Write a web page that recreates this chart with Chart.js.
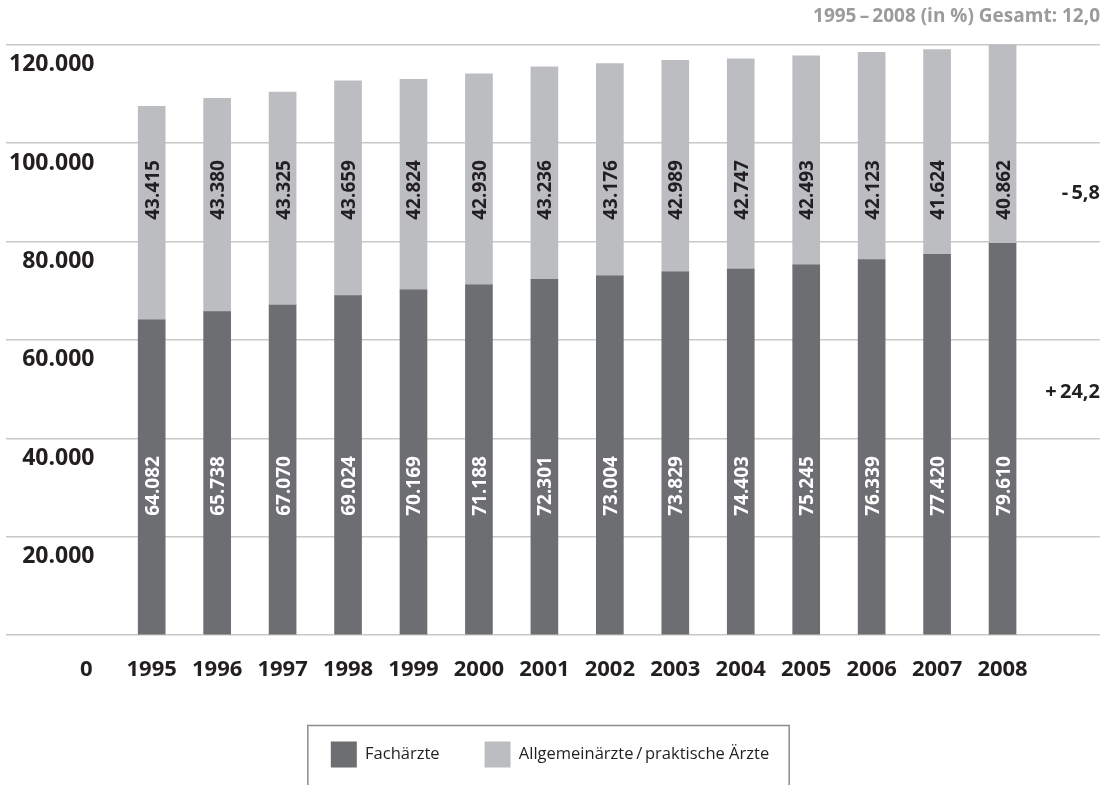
<!DOCTYPE html>
<html lang="de">
<head>
<meta charset="utf-8">
<title>Fachärzte und Allgemeinärzte 1995–2008</title>
<script src="https://cdn.jsdelivr.net/npm/chart.js@4.4.1/dist/chart.umd.min.js"></script>
<style>
  html, body { margin: 0; padding: 0; background: #fff; }
  #wrap { width: 1105px; height: 785px; }
</style>
</head>
<body>
<div id="wrap"><canvas id="aerzteChart" width="1105" height="785"></canvas></div>
<script>
const years = [1995, 1996, 1997, 1998, 1999, 2000, 2001, 2002, 2003, 2004, 2005, 2006, 2007, 2008];
const fachaerzte = [64082, 65738, 67070, 69024, 70169, 71188, 72301, 73004, 73829, 74403, 75245, 76339, 77420, 79610];
const allgemein = [43415, 43380, 43325, 43659, 42824, 42930, 43236, 43176, 42989, 42747, 42493, 42123, 41624, 40862];
const seriesNames = ['Fachärzte', 'Allgemeinärzte\u2009/\u2009praktische Ärzte'];
const changeLabels = ['-\u20095,8', '+\u200924,2'];
const headerText = '1995\u2009–\u20092008 (in %) Gesamt: 12,0';

// the "0" of the value axis sits in the year row, one slot before 1995
const zeroSlot = 1994;

const dark = '#6d6e71';
const light = '#bcbdc0';
const ink = '#231f20';

function fmt(n) {
    return String(n).replace(/\B(?=(\d{3})+(?!\d))/g, '.');
}

// rotated value labels inside the bars
const barLabels = {
    id: 'barLabels',
    afterDatasetsDraw(chart, args, opts) {
        const { ctx } = chart;
        const y = chart.scales.y;
        chart.data.datasets.forEach((ds, i) => {
            chart.getDatasetMeta(i).data.forEach((bar, j) => {
                ctx.save();
                ctx.translate(bar.x, y.getPixelForValue(opts.levels[i]));
                ctx.rotate(-Math.PI / 2);
                ctx.font = "bold 19px 'Open Sans'";
                ctx.fillStyle = opts.colors[i];
                ctx.textAlign = 'center';
                ctx.textBaseline = 'alphabetic';
                ctx.fillText(fmt(ds.data[j].y), 0, 7);
                ctx.restore();
            });
        });
    }
};

// change figures on the right and the frame round the legend
const extras = {
    id: 'extras',
    afterDraw(chart, args, opts) {
        const { ctx, chartArea } = chart;
        const y = chart.scales.y;
        ctx.save();
        ctx.font = "bold 20px 'Open Sans'";
        ctx.fillStyle = ink;
        ctx.textAlign = 'right';
        ctx.textBaseline = 'middle';
        changeLabels.forEach((t, i) => {
            ctx.fillText(t, chartArea.right, y.getPixelForValue(opts.levels[i]));
        });

        const boxes = chart.legend.legendHitBoxes;
        const left = Math.min(...boxes.map(b => b.left)) - 23;
        const right = Math.max(...boxes.map(b => b.left + b.width)) + 20;
        const top = Math.min(...boxes.map(b => b.top)) - 16;
        ctx.strokeStyle = '#8c8c8c';
        ctx.lineWidth = 1.5;
        ctx.beginPath();
        ctx.moveTo(left, chart.height + 2);
        ctx.lineTo(left, top);
        ctx.lineTo(right, top);
        ctx.lineTo(right, chart.height + 2);
        ctx.stroke();
        ctx.restore();
    }
};

const ctx = document.getElementById('aerzteChart').getContext('2d');
const aerzteChart = new Chart(ctx, {
    type: 'bar',
    data: {
        datasets: [
            {
                label: seriesNames[0],
                data: years.map((yr, i) => ({ x: yr, y: fachaerzte[i] })),
                backgroundColor: dark
            },
            {
                label: seriesNames[1],
                data: years.map((yr, i) => ({ x: yr, y: allgemein[i] })),
                backgroundColor: light
            }
        ]
    },
    options: {
        responsive: false,
        animation: false,
        layout: { padding: { left: 0, right: 5, top: 0, bottom: 7.6 } },
        datasets: { bar: { barThickness: 27 } },
        scales: {
            x: {
                type: 'linear',
                offset: false,
                stacked: true,
                min: 1992.774,
                max: 2009.489,
                grid: { display: false },
                border: { display: false },
                afterBuildTicks: s => { s.ticks = [zeroSlot, ...years].map(v => ({ value: v })); },
                ticks: {
                    autoSkip: false,
                    maxRotation: 0,
                    padding: 13.5,
                    color: ink,
                    font: { family: 'Open Sans', size: 22, weight: 'bold' },
                    callback: v => v === zeroSlot ? '0' : String(v)
                }
            },
            y: {
                stacked: true,
                min: 0,
                max: 120000,
                border: { display: false },
                grid: { color: '#c8c8c8', lineWidth: 1.5, drawTicks: false },
                ticks: {
                    stepSize: 20000,
                    mirror: true,
                    crossAlign: 'far',
                    padding: 3,
                    labelOffset: 20,
                    color: ink,
                    font: { family: 'Open Sans', size: 23, weight: 'bold' },
                    callback: v => v === 0 ? '' : fmt(v)
                }
            }
        },
        plugins: {
            title: {
                display: true,
                text: headerText,
                align: 'end',
                color: '#9b9b9b',
                font: { family: 'Open Sans', size: 19, weight: 'bold' },
                padding: { top: 5, bottom: 17 }
            },
            legend: {
                position: 'bottom',
                align: 'center',
                labels: {
                    boxWidth: 26,
                    boxHeight: 26,
                    padding: 45,
                    color: ink,
                    font: { family: 'Open Sans', size: 16.5 }
                }
            },
            tooltip: { enabled: false },
            barLabels: { levels: [30300, 90500], colors: ['#ffffff', ink] },
            extras: { levels: [89900, 49400] }
        }
    },
    plugins: [barLabels, extras]
});
</script>
</body>
</html>
